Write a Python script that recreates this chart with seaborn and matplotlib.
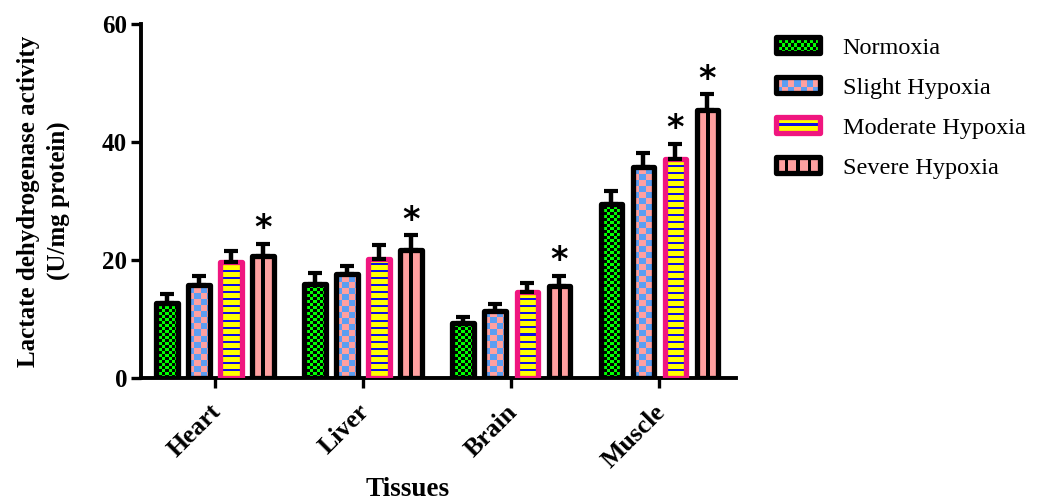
import numpy as np
import pandas as pd
import matplotlib
matplotlib.use("Agg")
import matplotlib.pyplot as plt
import seaborn as sns
from matplotlib.patches import Rectangle
from matplotlib.colors import to_rgb
from matplotlib.image import BboxImage
from matplotlib.transforms import Bbox, TransformedBbox, ScaledTranslation
from matplotlib.legend_handler import HandlerBase

# data
tissues = ["Heart", "Liver", "Brain", "Muscle"]
conditions = ["Normoxia", "Slight Hypoxia", "Moderate Hypoxia", "Severe Hypoxia"]
normoxia = [12.7, 15.9, 9.3, 29.5]
normoxia_err = [1.5, 1.9, 1.0, 2.2]
slight = [15.8, 17.6, 11.4, 35.7]
slight_err = [1.5, 1.4, 1.1, 2.4]
moderate = [19.7, 20.2, 14.6, 37.2]
moderate_err = [1.8, 2.3, 1.5, 2.5]
severe = [20.7, 21.7, 15.6, 45.4]
severe_err = [2.0, 2.5, 1.7, 2.7]
moderate_star = [0, 0, 0, 1]
severe_star = [1, 1, 1, 1]

values = [normoxia, slight, moderate, severe]
errors = [normoxia_err, slight_err, moderate_err, severe_err]
stars = [[0, 0, 0, 0], [0, 0, 0, 0], moderate_star, severe_star]

df = pd.DataFrame({
    "Tissue": tissues * 4,
    "Condition": [c for c in conditions for _ in tissues],
    "Value": sum(values, []),
})

# fill patterns and edge colours per condition
patterns = ["green", "checker", "stripes", "bars"]
edges = ["black", "black", "#F0167F", "black"]

GREEN = to_rgb("#00FF00")
BLACK = to_rgb("#000000")
PINK = to_rgb("#FFA0A0")
BLUE = to_rgb("#5C9EF2")
YELLOW = to_rgb("#FFFF00")
DBLUE = to_rgb("#1010E0")


def make_pattern(kind, w, h):
    yy, xx = np.mgrid[0:h, 0:w]
    img = np.zeros((h, w, 3))
    if kind == "green":
        mask = ((xx // 3) + (yy // 3)) % 2 == 0
        img[:] = BLACK
        img[mask] = GREEN
    elif kind == "checker":
        mask = ((xx // 6) + (yy // 6)) % 2 == 0
        img[:] = PINK
        img[mask] = BLUE
    elif kind == "stripes":
        img[:] = YELLOW
        img[(yy % 7) < 2] = DBLUE
    else:
        img[:] = PINK
        img[((xx - w // 2 + 1) % 11) < 3] = BLACK
    return img


sns.set_style("ticks")
plt.rcParams["font.family"] = ["Liberation Serif", "DejaVu Serif"]
plt.rcParams["text.color"] = "black"
plt.rcParams["xtick.color"] = "black"
plt.rcParams["ytick.color"] = "black"
plt.rcParams["axes.labelcolor"] = "black"
plt.rcParams["axes.edgecolor"] = "black"

fig = plt.figure(figsize=(10.5, 5.03), dpi=100)
ax = fig.add_axes([0.1343, 0.2485, 0.5667, 0.7038])

sns.barplot(data=df, x="Tissue", y="Value", hue="Condition", order=tissues,
            hue_order=conditions, width=0.865, gap=0.34, errorbar=None,
            legend=False, ax=ax)

ax.set_xlim(-0.5, 3.52)
ax.set_ylim(0, 60)

bar_containers = list(ax.containers)
for i, cont in enumerate(bar_containers):
    for j, bar in enumerate(cont.patches):
        bar.set_facecolor("none")
        bar.set_edgecolor(edges[i])
        bar.set_linewidth(3.8)
        bar.set_joinstyle("round")
        bar.set_zorder(3)
        x0, y0 = bar.get_x(), bar.get_y()
        x1, y1 = x0 + bar.get_width(), y0 + bar.get_height()
        p0 = ax.transData.transform((x0, y0))
        p1 = ax.transData.transform((x1, y1))
        w = max(int(round(p1[0] - p0[0])), 1)
        h = max(int(round(p1[1] - p0[1])), 1)
        im = ax.imshow(make_pattern(patterns[i], w, h), extent=(x0, x1, y0, y1),
                       origin="lower", interpolation="nearest", aspect="auto",
                       zorder=2)
        im.set_clip_path(bar)

        cx = x0 + bar.get_width() / 2
        ax.errorbar(cx, y1, yerr=[[0], [errors[i][j]]], fmt="none", ecolor="black",
                    elinewidth=3.2, capsize=4.8, capthick=3, zorder=4)
        if stars[i][j]:
            ax.annotate("*", (cx, y1 + errors[i][j]), xytext=(0, -1),
                        textcoords="offset points", ha="center", va="bottom",
                        fontsize=24, fontweight="bold", family="DejaVu Sans",
                        zorder=5)

ax.set_xlim(-0.5, 3.52)
ax.set_ylim(0, 60)
ax.set_yticks([0, 20, 40, 60])

sns.despine(ax=ax)
for s in ["left", "bottom"]:
    ax.spines[s].set_linewidth(2.8)
ax.tick_params(axis="both", width=2.4, length=7, color="black")
ax.tick_params(axis="y", labelsize=18, pad=3)
ax.tick_params(axis="x", labelsize=18.5, pad=9)
shift = ScaledTranslation(-4 / 72, 0, fig.dpi_scale_trans)
for lab in ax.get_yticklabels():
    lab.set_fontweight("bold")
for lab in ax.get_xticklabels():
    lab.set_fontweight("bold")
    lab.set_rotation(45)
    lab.set_ha("right")
    lab.set_rotation_mode("anchor")
    lab.set_transform(lab.get_transform() + shift)

ax.set_ylabel("Lactate dehydrogenase activity\n(U/mg protein)", fontsize=18,
              fontweight="bold", linespacing=1.4)
ax.yaxis.set_label_coords(-0.119, 0.5)
ax.set_xlabel("Tissues", fontsize=19.5, fontweight="bold", va="baseline")
ax.xaxis.set_label_coords(0.448, -0.333)


class PatternHandler(HandlerBase):
    def create_artists(self, legend, orig_handle, xdescent, ydescent, width,
                       height, fontsize, trans):
        kind, edge = orig_handle.pattern_kind, orig_handle.get_edgecolor()
        bb = TransformedBbox(Bbox.from_bounds(-xdescent, -ydescent, width, height), trans)
        img = BboxImage(bb, interpolation="nearest", origin="lower")
        img.set_data(make_pattern(kind, int(width * 1.39), int(height * 1.39)))
        frame = Rectangle((-xdescent, -ydescent), width, height, facecolor="none",
                          edgecolor=edge, linewidth=3.8, joinstyle="round",
                          transform=trans)
        return [img, frame]


handles = []
for i, c in enumerate(conditions):
    r = Rectangle((0, 0), 1, 1, edgecolor=edges[i], facecolor="none", label=c)
    r.pattern_kind = patterns[i]
    handles.append(r)

fig.legend(handles=handles, labels=conditions, loc="upper left",
           bbox_to_anchor=(0.718, 0.969), frameon=False, fontsize=17.5,
           handlelength=1.8, handleheight=0.62, handletextpad=0.95,
           labelspacing=0.76, handler_map={h: PatternHandler() for h in handles})

fig.savefig("out.png", dpi=100)
